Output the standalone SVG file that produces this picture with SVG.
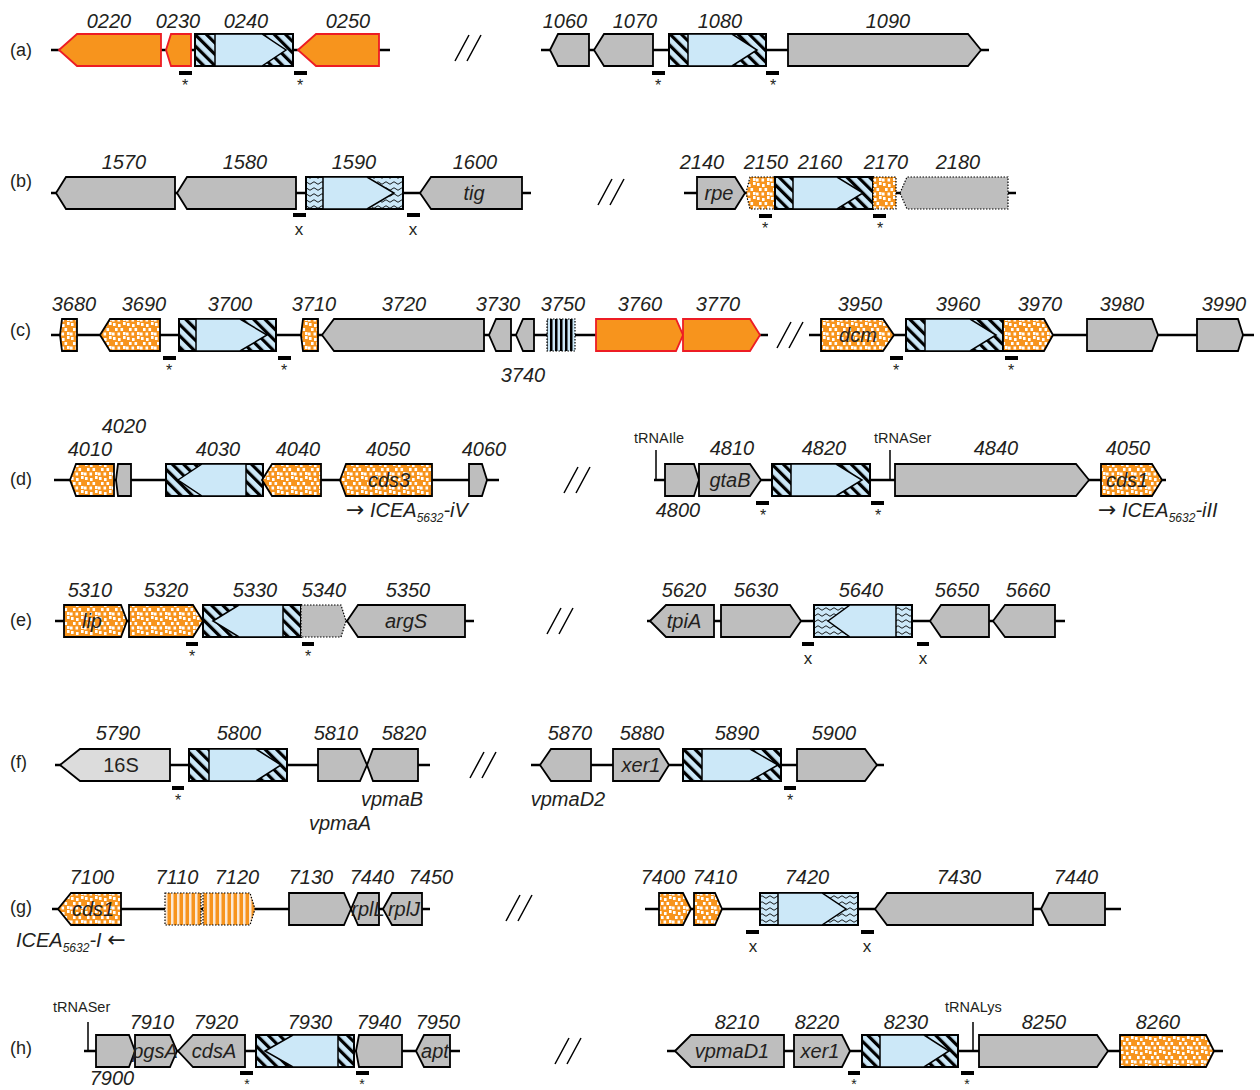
<svg xmlns="http://www.w3.org/2000/svg" width="1260" height="1090" viewBox="0 0 1260 1090">
<style>
.bb{stroke:#000;stroke-width:2.5;fill:none}
.g{fill:#BEBEBE;stroke:#000;stroke-width:1.8}
.lg{fill:#DCDCDC;stroke:#000;stroke-width:1.8}
.o{fill:#F7941D;stroke:#ED1C24;stroke-width:1.8}
.od{fill:url(#dots);stroke:#000;stroke-width:1.8}
.odd{fill:url(#dots);stroke:#000;stroke-width:1.2;stroke-dasharray:1.5 1.5}
.gd{fill:#BEBEBE;stroke:#000;stroke-width:1.2;stroke-dasharray:1.5 1.5}
.vs{fill:url(#vstripe);stroke:#000;stroke-width:1.2;stroke-dasharray:1.5 1.5}
.os{fill:url(#ostripe);stroke:#000;stroke-width:1.2;stroke-dasharray:1.5 1.5}
.hb{fill:url(#hatch);stroke:#000;stroke-width:2}
.wb{fill:url(#wavy);stroke:#000;stroke-width:2}
.bl{fill:#CCE8F8;stroke:#000;stroke-width:1.5}
.t{font-family:'Liberation Sans',Arial,sans-serif;font-style:italic;font-size:20px;fill:#231F20;text-anchor:middle}
.n{font-family:'Liberation Sans',Arial,sans-serif;font-size:20px;fill:#231F20;text-anchor:middle}
.r{font-family:'Liberation Sans',Arial,sans-serif;font-size:18px;fill:#231F20}
.s{font-family:'Liberation Sans',Arial,sans-serif;font-size:16px;fill:#231F20;text-anchor:middle}
.s2{font-family:'Liberation Sans',Arial,sans-serif;font-size:14px;fill:#231F20;text-anchor:middle}
.x{font-family:'Liberation Sans',Arial,sans-serif;font-size:17px;fill:#231F20;text-anchor:middle}
.tr{font-family:'Liberation Sans',Arial,sans-serif;font-size:14.5px;fill:#231F20}
.ice{font-family:'Liberation Sans',Arial,sans-serif;font-size:20px;fill:#231F20}
.ar{font-family:'DejaVu Sans',sans-serif;font-size:22px}
.sl{stroke:#000;stroke-width:1.5;fill:none}
.m{fill:#000}
</style>
<defs>
<pattern id="hatch" width="8" height="8" patternUnits="userSpaceOnUse" patternTransform="rotate(-45)">
<rect width="8" height="8" fill="#CCE8F8"/><rect width="3.2" height="8" fill="#000"/>
</pattern>
<pattern id="wavy" width="8" height="6" patternUnits="userSpaceOnUse">
<rect width="8" height="6" fill="#CCE8F8"/><path d="M0 3 Q2 0.5 4 3 T8 3" fill="none" stroke="#000" stroke-width="0.9"/>
</pattern>
<pattern id="dots" width="14" height="14" patternUnits="userSpaceOnUse">
<rect width="14" height="14" fill="#F7941D"/>
<g fill="#fff"><rect x="1" y="1" width="2.6" height="3"/><rect x="6" y="2" width="2.6" height="3"/><rect x="11" y="0" width="2.6" height="3"/><rect x="3" y="6" width="2.6" height="3"/><rect x="8.5" y="6" width="2.6" height="3"/><rect x="0" y="10.5" width="2.6" height="3"/><rect x="5.5" y="10.5" width="2.6" height="3"/><rect x="11" y="10" width="2.6" height="3"/></g>
</pattern>
<pattern id="vstripe" width="5" height="10" patternUnits="userSpaceOnUse">
<rect width="5" height="10" fill="#CCE8F8"/><rect width="2.5" height="10" fill="#000"/>
</pattern>
<pattern id="ostripe" width="6" height="10" patternUnits="userSpaceOnUse">
<rect width="6" height="10" fill="#F7941D"/><rect x="3" width="2.5" height="10" fill="#FBE9D6"/>
</pattern>
</defs>
<rect width="1260" height="1090" fill="#fff"/>

<g id="connectors">
<path class="bb" d="M51 50H390M541 50H989"/>
<path class="bb" d="M51 193H531M684 193H1016"/>
<path class="bb" d="M51 335H768M809 335H1254"/>
<path class="bb" d="M54 480H499M654 480H1166"/>
<path class="bb" d="M55 621H474M647 621H1065"/>
<path class="bb" d="M55 765H430M531 765H884"/>
<path class="bb" d="M52 909H430M645 909H1121"/>
<path class="bb" d="M84 1051H460M667 1051H1223"/>
<path class="sl" d="M455 61L469 35M467 61L481 35"/>
<path class="sl" d="M598 205L612 179M610 205L624 179"/>
<path class="sl" d="M777 348L791 322M789 348L803 322"/>
<path class="sl" d="M564 493L578 467M576 493L590 467"/>
<path class="sl" d="M547 634L561 608M559 634L573 608"/>
<path class="sl" d="M470 778L484 752M482 778L496 752"/>
<path class="sl" d="M506 921L520 895M518 921L532 895"/>
<path class="sl" d="M555 1064L569 1038M567 1064L581 1038"/>
<path class="sl" d="M656 450V480M890 450V480M88 1022V1051M973 1022V1051"/>
</g>

<g id="rowlabels">
<text class="r" x="10" y="56">(a)</text>
<text class="r" x="10" y="187">(b)</text>
<text class="r" x="10" y="336">(c)</text>
<text class="r" x="10" y="485">(d)</text>
<text class="r" x="10" y="626">(e)</text>
<text class="r" x="10" y="768">(f)</text>
<text class="r" x="10" y="913">(g)</text>
<text class="r" x="10" y="1054">(h)</text>
</g>

<!-- Row a -->
<g id="g0220"><polygon class="o" points="59,50 77,34 161,34 161,66 77,66"/><text class="t" x="109" y="28">0220</text></g>
<g id="g0230"><polygon class="o" points="166,50 171,34 191,34 191,66 171,66"/><text class="t" x="178" y="28">0230</text></g>
<g id="g0240"><rect class="hb" x="195" y="34" width="98" height="32"/><polygon class="bl" points="215,34 262,34 286,50 262,66 215,66"/><text class="t" x="246" y="28">0240</text></g>
<g id="g0250"><polygon class="o" points="298,50 316,34 379,34 379,66 316,66"/><text class="t" x="348" y="28">0250</text></g>
<g id="g1060"><polygon class="g" points="550,50 558,34 589,34 589,66 558,66"/><text class="t" x="565" y="28">1060</text></g>
<g id="g1070"><polygon class="g" points="594,50 604,34 653,34 653,66 604,66"/><text class="t" x="635" y="28">1070</text></g>
<g id="g1080"><rect class="hb" x="669" y="34" width="97" height="32"/><polygon class="bl" points="688,34 732,34 757,50 732,66 688,66"/><text class="t" x="720" y="28">1080</text></g>
<g id="g1090"><polygon class="g" points="788,34 968,34 981,50 968,66 788,66"/><text class="t" x="888" y="28">1090</text></g>

<!-- Row b -->
<g id="g1570"><polygon class="g" points="56,193 66,177 175,177 175,209 66,209"/><text class="t" x="124" y="169">1570</text></g>
<g id="g1580"><polygon class="g" points="177,193 187,177 296,177 296,209 187,209"/><text class="t" x="245" y="169">1580</text></g>
<g id="g1590"><rect class="wb" x="306" y="177" width="97" height="32"/><polygon class="bl" points="323,177 367,177 394,193 367,209 323,209"/><text class="t" x="354" y="169">1590</text></g>
<g id="g1600"><polygon class="g" points="420,193 431,177 522,177 522,209 431,209"/><text class="t" x="475" y="169">1600</text><text class="t" x="474" y="200">tig</text></g>
<g id="g2140"><polygon class="g" points="697,177 735,177 745,193 735,209 697,209"/><text class="t" x="702" y="169">2140</text><text class="t" x="719" y="200">rpe</text></g>
<g id="g2150"><polygon class="odd" points="746,193 750,177 775,177 775,209 750,209"/><text class="t" x="766" y="169">2150</text></g>
<g id="g2160"><rect class="hb" x="775" y="177" width="98" height="32"/><polygon class="bl" points="793,177 837,177 863,193 837,209 793,209"/><text class="t" x="820" y="169">2160</text></g>
<g id="g2170"><rect class="odd" x="873" y="177" width="23" height="32"/><text class="t" x="886" y="169">2170</text></g>
<g id="g2180"><polygon class="gd" points="900,193 907,177 1008,177 1008,209 907,209"/><text class="t" x="958" y="169">2180</text></g>

<!-- Row c -->
<g id="g3680"><polygon class="od" points="60,335 62,319 77,319 77,351 62,351"/><text class="t" x="74" y="311">3680</text></g>
<g id="g3690"><polygon class="od" points="100,335 110,319 160,319 160,351 110,351"/><text class="t" x="144" y="311">3690</text></g>
<g id="g3700"><rect class="hb" x="179" y="319" width="97" height="32"/><polygon class="bl" points="196,319 240,319 267,335 240,351 196,351"/><text class="t" x="230" y="311">3700</text></g>
<g id="g3710"><polygon class="od" points="301,335 303,319 318,319 318,351 303,351"/><text class="t" x="314" y="311">3710</text></g>
<g id="g3720"><polygon class="g" points="322,335 334,319 484,319 484,351 334,351"/><text class="t" x="404" y="311">3720</text></g>
<g id="g3730"><polygon class="g" points="489,335 496,319 511,319 511,351 496,351"/><text class="t" x="498" y="311">3730</text></g>
<g id="g3740"><polygon class="g" points="516,335 523,319 534,319 534,351 523,351"/><text class="t" x="523" y="382">3740</text></g>
<g id="g3750"><rect class="vs" x="547" y="319" width="28" height="32"/><text class="t" x="563" y="311">3750</text></g>
<g id="g3760"><polygon class="o" points="596,319 676,319 683,335 676,351 596,351"/><text class="t" x="640" y="311">3760</text></g>
<g id="g3770"><polygon class="o" points="683,319 750,319 760,335 750,351 683,351"/><text class="t" x="718" y="311">3770</text></g>
<g id="g3950"><polygon class="od" points="821,319 883,319 894,335 883,351 821,351"/><text class="t" x="860" y="311">3950</text><text class="t" x="858" y="342">dcm</text></g>
<g id="g3960"><rect class="hb" x="906" y="319" width="97" height="32"/><polygon class="bl" points="925,319 970,319 996,335 970,351 925,351"/><text class="t" x="958" y="311">3960</text></g>
<g id="g3970"><polygon class="od" points="1003,319 1044,319 1053,335 1044,351 1003,351"/><text class="t" x="1040" y="311">3970</text></g>
<g id="g3980"><polygon class="g" points="1087,319 1152,319 1158,335 1152,351 1087,351"/><text class="t" x="1122" y="311">3980</text></g>
<g id="g3990"><polygon class="g" points="1197,319 1238,319 1243,335 1238,351 1197,351"/><text class="t" x="1224" y="311">3990</text></g>

<!-- Row d -->
<g id="g4010"><polygon class="od" points="70,480 76,464 114,464 114,496 76,496"/><text class="t" x="90" y="456">4010</text></g>
<g id="g4020"><polygon class="g" points="116,480 118,464 131,464 131,496 118,496"/><text class="t" x="124" y="433">4020</text></g>
<g id="g4030"><rect class="hb" x="166" y="464" width="97" height="32"/><polygon class="bl" points="178,480 202,464 246,464 246,496 202,496"/><text class="t" x="218" y="456">4030</text></g>
<g id="g4040"><polygon class="od" points="262,480 272,464 321,464 321,496 272,496"/><text class="t" x="298" y="456">4040</text></g>
<g id="g4050a"><polygon class="od" points="340,480 346,464 432,464 432,496 346,496"/><text class="t" x="388" y="456">4050</text><text class="t" x="389" y="487">cds3</text>
<text class="ice" x="346" y="517"><tspan class="ar">→</tspan> <tspan font-style="italic">ICEA</tspan><tspan font-style="italic" font-size="12" dy="5">5632</tspan><tspan font-style="italic" dy="-5">-iV</tspan></text></g>
<g id="g4060"><polygon class="g" points="469,464 482,464 487,480 482,496 469,496"/><text class="t" x="484" y="456">4060</text></g>
<g id="trnaIle"><text class="tr" x="634" y="443">tRNAIle</text></g>
<g id="g4800"><polygon class="g" points="665,464 694,464 699,480 694,496 665,496"/><text class="t" x="678" y="517">4800</text></g>
<g id="g4810"><polygon class="g" points="699,464 750,464 761,480 750,496 699,496"/><text class="t" x="732" y="455">4810</text><text class="t" x="730" y="487">gtaB</text></g>
<g id="g4820"><rect class="hb" x="772" y="464" width="98" height="32"/><polygon class="bl" points="791,464 836,464 862,480 836,496 791,496"/><text class="t" x="824" y="455">4820</text></g>
<g id="trnaSer1"><text class="tr" x="874" y="443">tRNASer</text></g>
<g id="g4840"><polygon class="g" points="895,464 1076,464 1089,480 1076,496 895,496"/><text class="t" x="996" y="455">4840</text></g>
<g id="g4050b"><polygon class="od" points="1101,464 1152,464 1162,480 1152,496 1101,496"/><text class="t" x="1128" y="455">4050</text><text class="t" x="1127" y="487">cds1</text>
<text class="ice" x="1098" y="517"><tspan class="ar">→</tspan> <tspan font-style="italic">ICEA</tspan><tspan font-style="italic" font-size="12" dy="5">5632</tspan><tspan font-style="italic" dy="-5">-iII</tspan></text></g>

<!-- Row e -->
<g id="g5310"><polygon class="od" points="64,605 121,605 127,621 121,637 64,637"/><text class="t" x="90" y="597">5310</text><text class="t" x="92" y="628">lip</text></g>
<g id="g5320"><polygon class="od" points="129,605 193,605 203,621 193,637 129,637"/><text class="t" x="166" y="597">5320</text></g>
<g id="g5330"><rect class="hb" x="203" y="605" width="98" height="32"/><polygon class="bl" points="213,621 239,605 283,605 283,637 239,637"/><text class="t" x="255" y="597">5330</text></g>
<g id="g5340"><polygon class="gd" points="301,605 341,605 346,621 341,637 301,637"/><text class="t" x="324" y="597">5340</text></g>
<g id="g5350"><polygon class="g" points="347,621 358,605 465,605 465,637 358,637"/><text class="t" x="408" y="597">5350</text><text class="t" x="406" y="628">argS</text></g>
<g id="g5620"><polygon class="g" points="650,621 666,605 714,605 714,637 666,637"/><text class="t" x="684" y="597">5620</text><text class="t" x="684" y="628">tpiA</text></g>
<g id="g5630"><polygon class="g" points="721,605 790,605 801,621 790,637 721,637"/><text class="t" x="756" y="597">5630</text></g>
<g id="g5640"><rect class="wb" x="814" y="605" width="98" height="32"/><polygon class="bl" points="828,621 850,605 896,605 896,637 850,637"/><text class="t" x="861" y="597">5640</text></g>
<g id="g5650"><polygon class="g" points="930,621 941,605 989,605 989,637 941,637"/><text class="t" x="957" y="597">5650</text></g>
<g id="g5660"><polygon class="g" points="993,621 1005,605 1055,605 1055,637 1005,637"/><text class="t" x="1028" y="597">5660</text></g>

<!-- Row f -->
<g id="g5790"><polygon class="lg" points="60,765 80,749 170,749 170,781 80,781"/><text class="t" x="118" y="740">5790</text><text class="n" x="121" y="772">16S</text></g>
<g id="g5800"><rect class="hb" x="189" y="749" width="98" height="32"/><polygon class="bl" points="209,749 256,749 281,765 256,781 209,781"/><text class="t" x="239" y="740">5800</text></g>
<g id="g5810"><polygon class="g" points="318,749 360,749 367,765 360,781 318,781"/><text class="t" x="336" y="740">5810</text><text class="t" x="340" y="830">vpmaA</text></g>
<g id="g5820"><polygon class="g" points="367,765 373,749 418,749 418,781 373,781"/><text class="t" x="404" y="740">5820</text><text class="t" x="392" y="806">vpmaB</text></g>
<g id="g5870"><polygon class="g" points="540,765 551,749 591,749 591,781 551,781"/><text class="t" x="570" y="740">5870</text><text class="t" x="568" y="806">vpmaD2</text></g>
<g id="g5880"><polygon class="g" points="613,749 659,749 669,765 659,781 613,781"/><text class="t" x="642" y="740">5880</text><text class="t" x="641" y="772">xer1</text></g>
<g id="g5890"><rect class="hb" x="683" y="749" width="98" height="32"/><polygon class="bl" points="702,749 750,749 778,765 750,781 702,781"/><text class="t" x="737" y="740">5890</text></g>
<g id="g5900"><polygon class="g" points="797,749 865,749 877,765 865,781 797,781"/><text class="t" x="834" y="740">5900</text></g>

<!-- Row g -->
<g id="g7100"><polygon class="od" points="58,909 71,893 121,893 121,925 71,925"/><text class="t" x="92" y="884">7100</text><text class="t" x="93" y="916">cds1</text>
<text class="ice" x="16" y="947"><tspan font-style="italic">ICEA</tspan><tspan font-style="italic" font-size="12" dy="5">5632</tspan><tspan font-style="italic" dy="-5">-I</tspan> <tspan class="ar">←</tspan></text></g>
<g id="g7110"><rect class="os" x="165" y="893" width="36" height="32"/><text class="t" x="177" y="884">7110</text></g>
<g id="g7120"><polygon class="os" points="203,893 250,893 255,909 250,925 203,925"/><text class="t" x="237" y="884">7120</text></g>
<g id="g7130"><polygon class="g" points="289,893 344,893 351,909 344,925 289,925"/><text class="t" x="311" y="884">7130</text></g>
<g id="g7440a"><polygon class="g" points="351,909 358,893 379,893 379,925 358,925"/><text class="t" x="372" y="884">7440</text><text class="t" x="368" y="916">rplL</text></g>
<g id="g7450"><polygon class="g" points="383,909 392,893 422,893 422,925 392,925"/><text class="t" x="431" y="884">7450</text><text class="t" x="404" y="916">rplJ</text></g>
<g id="g7400"><polygon class="od" points="659,893 683,893 691,909 683,925 659,925"/><text class="t" x="663" y="884">7400</text></g>
<g id="g7410"><polygon class="od" points="694,893 715,893 722,909 715,925 694,925"/><text class="t" x="715" y="884">7410</text></g>
<g id="g7420"><rect class="wb" x="760" y="893" width="98" height="32"/><polygon class="bl" points="778,893 822,893 846,909 822,925 778,925"/><text class="t" x="807" y="884">7420</text></g>
<g id="g7430"><polygon class="g" points="875,909 887,893 1033,893 1033,925 887,925"/><text class="t" x="959" y="884">7430</text></g>
<g id="g7440b"><polygon class="g" points="1041,909 1049,893 1105,893 1105,925 1049,925"/><text class="t" x="1076" y="884">7440</text></g>

<!-- Row h -->
<g id="trnaSer2"><text class="tr" x="53" y="1012">tRNASer</text></g>
<g id="g7900"><polygon class="g" points="96,1035 129,1035 135,1051 129,1067 96,1067"/><text class="t" x="112" y="1085">7900</text></g>
<g id="g7910"><polygon class="g" points="135,1035 170,1035 177,1051 170,1067 135,1067"/><text class="t" x="152" y="1029">7910</text><text class="t" x="155" y="1058">pgsA</text></g>
<g id="g7920"><polygon class="g" points="178,1051 193,1035 245,1035 245,1067 193,1067"/><text class="t" x="216" y="1029">7920</text><text class="t" x="214" y="1058">cdsA</text></g>
<g id="g7930"><rect class="hb" x="256" y="1035" width="98" height="32"/><polygon class="bl" points="265,1051 293,1035 338,1035 338,1067 293,1067"/><text class="t" x="310" y="1029">7930</text></g>
<g id="g7940"><polygon class="g" points="356,1051 359,1035 402,1035 402,1067 359,1067"/><text class="t" x="379" y="1029">7940</text></g>
<g id="g7950"><polygon class="g" points="416,1051 424,1035 450,1035 450,1067 424,1067"/><text class="t" x="438" y="1029">7950</text><text class="t" x="435" y="1058">apt</text></g>
<g id="g8210"><polygon class="g" points="675,1051 691,1035 784,1035 784,1067 691,1067"/><text class="t" x="737" y="1029">8210</text><text class="t" x="732" y="1058">vpmaD1</text></g>
<g id="g8220"><polygon class="g" points="794,1035 842,1035 850,1051 842,1067 794,1067"/><text class="t" x="817" y="1029">8220</text><text class="t" x="820" y="1058">xer1</text></g>
<g id="g8230"><rect class="hb" x="862" y="1035" width="96" height="32"/><polygon class="bl" points="880,1035 924,1035 949,1051 924,1067 880,1067"/><text class="t" x="906" y="1029">8230</text></g>
<g id="trnaLys"><text class="tr" x="945" y="1012">tRNALys</text></g>
<g id="g8250"><polygon class="g" points="979,1035 1097,1035 1108,1051 1097,1067 979,1067"/><text class="t" x="1044" y="1029">8250</text></g>
<g id="g8260"><polygon class="od" points="1120,1035 1206,1035 1214,1051 1206,1067 1120,1067"/><text class="t" x="1158" y="1029">8260</text></g>

<g id="sites">
<rect class="m" x="179" y="71" width="13" height="4"/><text class="s" x="185" y="91">*</text>
<rect class="m" x="294" y="71" width="13" height="4"/><text class="s" x="300" y="91">*</text>
<rect class="m" x="652" y="71" width="13" height="4"/><text class="s" x="658" y="91">*</text>
<rect class="m" x="766" y="71" width="13" height="4"/><text class="s" x="773" y="91">*</text>
<rect class="m" x="293" y="213" width="13" height="4"/><text class="x" x="299" y="235">x</text>
<rect class="m" x="407" y="213" width="13" height="4"/><text class="x" x="413" y="235">x</text>
<rect class="m" x="759" y="214" width="13" height="4"/><text class="s" x="765" y="234">*</text>
<rect class="m" x="873" y="214" width="13" height="4"/><text class="s" x="880" y="234">*</text>
<rect class="m" x="163" y="356" width="13" height="4"/><text class="s" x="169" y="376">*</text>
<rect class="m" x="278" y="356" width="13" height="4"/><text class="s" x="284" y="376">*</text>
<rect class="m" x="890" y="356" width="13" height="4"/><text class="s" x="896" y="376">*</text>
<rect class="m" x="1005" y="356" width="13" height="4"/><text class="s" x="1011" y="376">*</text>
<rect class="m" x="756" y="501" width="13" height="4"/><text class="s" x="763" y="521">*</text>
<rect class="m" x="871" y="501" width="13" height="4"/><text class="s" x="878" y="521">*</text>
<rect class="m" x="186" y="642" width="12" height="4"/><text class="s" x="192" y="662">*</text>
<rect class="m" x="302" y="642" width="12" height="4"/><text class="s" x="308" y="662">*</text>
<rect class="m" x="802" y="642" width="12" height="4"/><text class="x" x="808" y="664">x</text>
<rect class="m" x="917" y="642" width="12" height="4"/><text class="x" x="923" y="664">x</text>
<rect class="m" x="172" y="786" width="12" height="4"/><text class="s" x="178" y="806">*</text>
<rect class="m" x="784" y="786" width="12" height="4"/><text class="s" x="790" y="806">*</text>
<rect class="m" x="746" y="930" width="13" height="4"/><text class="x" x="753" y="952">x</text>
<rect class="m" x="861" y="930" width="13" height="4"/><text class="x" x="867" y="952">x</text>
<rect class="m" x="240" y="1071" width="13" height="4"/><text class="s2" x="247" y="1089">*</text>
<rect class="m" x="356" y="1071" width="13" height="4"/><text class="s2" x="362" y="1089">*</text>
<rect class="m" x="848" y="1071" width="12" height="4"/><text class="s2" x="854" y="1089">*</text>
<rect class="m" x="961" y="1071" width="13" height="4"/><text class="s2" x="967" y="1089">*</text>
</g>
</svg>
